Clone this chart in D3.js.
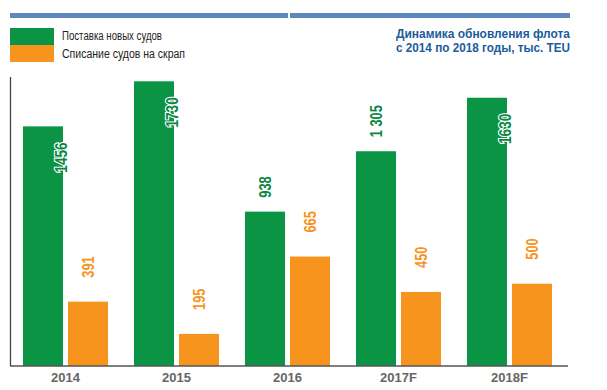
<!DOCTYPE html>
<html><head><meta charset="utf-8">
<script src="https://cdn.jsdelivr.net/npm/d3@7"></script>
<style>html,body{margin:0;padding:0;background:#fff}</style>
</head><body>
<script>
const categories = ["2014", "2015", "2016", "2017F", "2018F"];
const newShips = [1456, 1730, 938, 1305, 1630];
const scrapped = [391, 195, 665, 450, 500];
const seriesNames = ["Поставка новых судов", "Списание судов на скрап"];
const titleLines = ["Динамика обновления флота", "с 2014 по 2018 годы, тыс. TEU"];
const fmtNew = ["1456", "1730", "938", "1 305", "1630"];
const fmtScrap = ["391", "195", "665", "450", "500"];

const W = 607, H = 390;
const GREEN = "#0b9444", ORANGE = "#f7941d", BLUE = "#5d88bd", TITLE = "#1b5c9b";
const FONT = "'Liberation Sans',Arial,sans-serif";

const svg = d3.select("body").append("svg").attr("width", W).attr("height", H);

function condense(sel, f) {
  sel.each(function () {
    const n = this.getComputedTextLength();
    d3.select(this).attr("textLength", n * f).attr("lengthAdjust", "spacingAndGlyphs");
  });
  return sel;
}

// top blue band
svg.append("rect").attr("x", 10).attr("y", 13).attr("width", 278).attr("height", 5).attr("fill", BLUE);
svg.append("rect").attr("x", 290).attr("y", 13).attr("width", 280).attr("height", 5).attr("fill", BLUE);

// legend
const colors = [GREEN, ORANGE];
const legendW = [100, 123];
seriesNames.forEach((n, i) => {
  svg.append("rect").attr("x", 10).attr("y", 28 + i * 17).attr("width", 44).attr("height", 17)
    .attr("fill", colors[i]);
  svg.append("text").attr("x", 62).attr("y", 40 + i * 18).text(n)
    .attr("font-family", FONT).attr("font-size", 12.5).attr("fill", "#222")
    .attr("textLength", legendW[i]).attr("lengthAdjust", "spacingAndGlyphs");
});

// title
titleLines.forEach((t, i) => {
  svg.append("text").attr("x", 570).attr("y", 38 + i * 14).attr("text-anchor", "end").text(t)
    .attr("font-family", FONT).attr("font-weight", "bold").attr("font-size", 13.5).attr("fill", TITLE)
    .attr("textLength", 174).attr("lengthAdjust", "spacingAndGlyphs");
});

const y = d3.scaleLinear().domain([0, 1750]).range([366, 78]);
const x0 = d3.scaleBand().domain(categories).range([10, 565]).paddingInner(0.234).paddingOuter(0.117);
const x1 = d3.scaleBand().domain([0, 1]).range([0, x0.bandwidth()]).paddingInner(0.111);

const data = categories.map((c, i) => ({c, v: [newShips[i], scrapped[i]], l: [fmtNew[i], fmtScrap[i]]}));

data.forEach(d => {
  [0, 1].forEach(k => {
    const bx = x0(d.c) + x1(k);
    const top = y(d.v[k]);
    svg.append("rect").attr("x", bx).attr("y", top).attr("width", x1.bandwidth())
      .attr("height", y(0) - top).attr("fill", colors[k]);
  });
});

// value labels (rotated)
data.forEach(d => {
  [0, 1].forEach(k => {
    const bx = x0(d.c) + x1(k);
    const top = y(d.v[k]);
    let lx, ly, anchor, halo = false;
    if (k === 0 && d.v[k] > 1400) {
      lx = bx + x1.bandwidth() - 2; ly = top + 16; anchor = "end"; halo = true;
    } else {
      lx = bx + x1.bandwidth() / 2; ly = top - (k === 0 ? 14 : 24); anchor = "start";
    }
    const t = svg.append("text")
      .attr("transform", `translate(${lx},${ly}) rotate(-90)`)
      .attr("text-anchor", anchor).attr("dy", "0.36em")
      .attr("font-family", FONT).attr("font-weight", "bold").attr("font-size", 16)
      .attr("fill", k === 0 ? "#0a8640" : ORANGE).text(d.l[k]);
    if (halo) t.attr("stroke", "#fff").attr("stroke-width", 2.2).attr("paint-order", "stroke");
    condense(t, halo ? 0.85 : 0.8);
  });
});

// axes
const xAxis = svg.append("g").attr("transform", "translate(0,366)")
  .call(d3.axisBottom(x0).tickSize(0).tickPadding(7));
xAxis.select(".domain").remove();
xAxis.selectAll("text").attr("font-family", FONT).attr("font-weight", "bold")
  .attr("font-size", 13).attr("fill", "#666");
svg.append("line").attr("x1", 10).attr("x2", 568).attr("y1", 366).attr("y2", 366)
  .attr("stroke", "#555").attr("stroke-width", 1.5);
svg.append("line").attr("x1", 10.5).attr("x2", 10.5).attr("y1", 77).attr("y2", 366)
  .attr("stroke", "#444").attr("stroke-width", 1.3);
</script>
</body></html>
